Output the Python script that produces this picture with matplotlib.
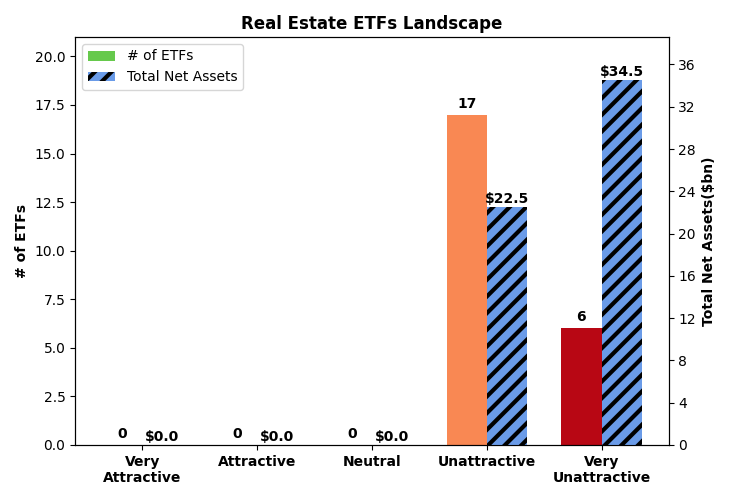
import numpy as np
import matplotlib
matplotlib.use('Agg')
import matplotlib.pyplot as plt

categories = ['Very\nAttractive', 'Attractive', 'Neutral', 'Unattractive', 'Very\nUnattractive']
num_etfs = [0, 0, 0, 17, 6]
net_assets = [0.0, 0.0, 0.0, 22.5, 34.5]
bar_colors = ['#66c94c', '#9ad26a', '#f2e35c', '#f98853', '#b80714']

plt.rcParams['hatch.linewidth'] = 3

x = np.arange(len(categories))
width = 0.35

fig, ax = plt.subplots(figsize=(7.3, 5), dpi=100)
ax2 = ax.twinx()

b1 = ax.bar(x - width / 2, num_etfs, width, color=bar_colors, label='# of ETFs')
b2 = ax2.bar(x + width / 2, net_assets, width, color='#6a9be8', edgecolor='black',
             linewidth=0, hatch='//', label='Total Net Assets')

for rect, v in zip(b1, num_etfs):
    ax.annotate('%d' % v, (rect.get_x() + rect.get_width() / 2, rect.get_height()),
                xytext=(0, 3), textcoords='offset points', ha='center', va='bottom',
                fontweight='bold')
for rect, v in zip(b2, net_assets):
    ax2.annotate('$%.1f' % v, (rect.get_x() + rect.get_width() / 2, rect.get_height()),
                 xytext=(0, 1), textcoords='offset points', ha='center', va='bottom',
                 fontweight='bold')

ax.set_ylim(0, 21)
ax2.set_ylim(0, 38.6)
ax2.set_yticks(np.arange(0, 37, 4))
ax.set_xticks(x)
ax.set_xticklabels(categories, fontweight='bold')
ax.set_ylabel('# of ETFs', fontweight='bold')
ax2.set_ylabel('Total Net Assets($bn)', fontweight='bold')
ax.set_title('Real Estate ETFs Landscape', fontweight='bold', fontsize=12)

h1, l1 = ax.get_legend_handles_labels()
h2, l2 = ax2.get_legend_handles_labels()
ax.legend(h1 + h2, l1 + l2, loc='upper left')

plt.subplots_adjust(left=0.103, right=0.916, top=0.926, bottom=0.11)
plt.savefig('out.png')
